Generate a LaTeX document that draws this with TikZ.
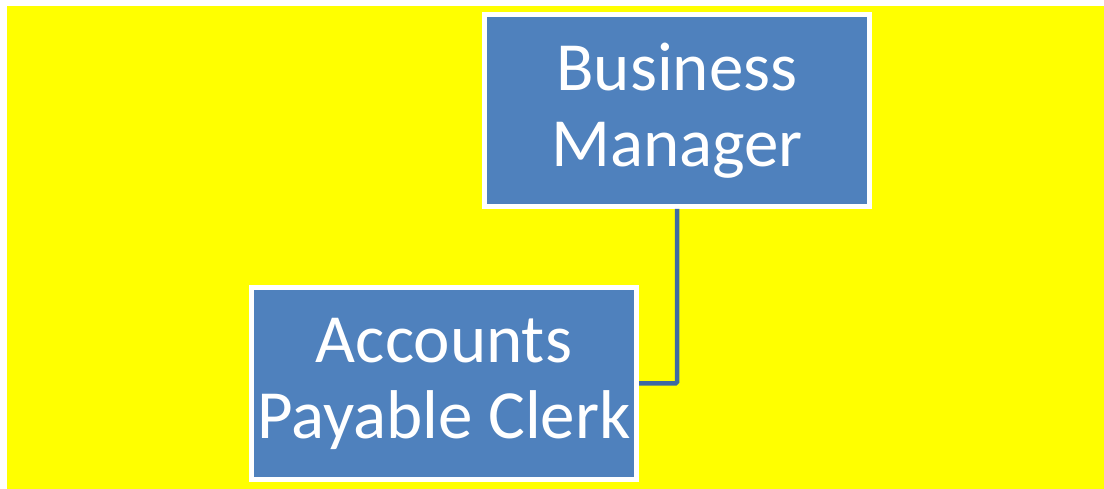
\documentclass[tikz,border=0pt]{standalone}
\usepackage{fontspec}
\setmainfont{Carlito}
\usepackage{tikz}
\definecolor{boxblue}{HTML}{4F81BD}
\definecolor{lineblue}{HTML}{3E6AA2}
\definecolor{bgyellow}{HTML}{FFFF00}

\begin{document}
\begin{tikzpicture}[x=1pt,y=1pt, rnode/.style={draw=white,fill=boxblue,line width=5pt,minimum width=385pt,minimum height=192pt,inner sep=0pt,align=center,text=white,font=\fontsize{69}{76}\selectfont}]
    \useasboundingbox (0,0) rectangle (1104,489);
    \fill[white] (0,0) rectangle (1104,489);
    \fill[bgyellow] (7,0) rectangle (1104,483);
    \node[rnode] (bm) at (677, 378.5) {Business\\Manager};
    \node[rnode] (apc) at (444, 105.5) {Accounts\\Payable Clerk};

    \draw[lineblue, line width=4.5pt, rounded corners=1.5pt] (bm.south) |- (apc.east) ;
\end{tikzpicture}
\end{document}
